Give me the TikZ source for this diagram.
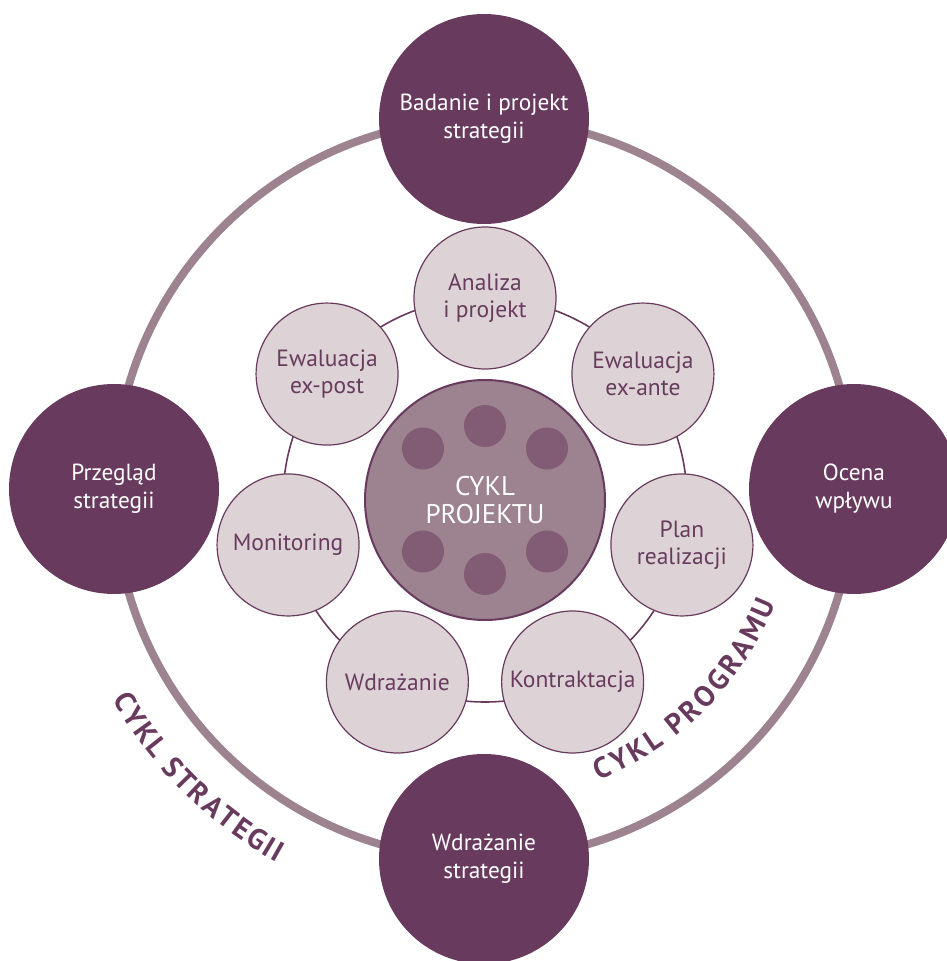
\documentclass[tikz,border=0pt]{standalone}
\usepackage{fontspec}
\setmainfont{PT Sans}
\usetikzlibrary{decorations.text}

\definecolor{plum}{HTML}{683B5E}
\definecolor{mauve}{HTML}{9D8290}
\definecolor{dotplum}{HTML}{825C74}
\definecolor{pale}{HTML}{DDD3D6}

\tikzset{
  bignode/.style = {circle, fill = plum, text = white, minimum size = 210pt, inner sep = 0pt, align = center, font = \fontsize{23.3}{28}\selectfont},
  smallnode/.style = {circle, draw = plum, line width = 1.2pt, fill = pale, text = plum, minimum size = 142pt, inner sep = 0pt, align = center, font = \fontsize{23.5}{27}\selectfont},
  hubnode/.style = {circle, draw = plum, line width = 2pt, fill = mauve, text = white, minimum size = 240pt, inner sep = 0pt, align = center, font = \fontsize{27}{28}\selectfont},
  bigring/.style = {draw = mauve, line width = 8pt},
  smallring/.style = {draw = plum, line width = 1.6pt},
  hubdot/.style = {fill = dotplum}
}

\begin{document}
\begin{tikzpicture}[x = 1pt, y = 1pt]
        \useasboundingbox (-484,-472) rectangle (463,489);

        \coordinate (o) at (0,0);
        \coordinate (c) at (1,-11);

        \draw [bigring] (o) circle (370);

        \node [bignode] (badanie) at (90:370) {Badanie i projekt\\strategii};
        \node [bignode] (ocena) at (0:370) {Ocena\\wpływu};
        \node [bignode] (wdrazaniestr) at (270:370) {Wdrażanie\\strategii};
        \node [bignode] (przeglad) at (180:370) {Przegląd\\strategii};

        \path [decorate, decoration = {text along path, text align = fit to path, text = {|\fontsize{29}{29}\selectfont\bfseries\color{plum}|CYKL STRATEGII}}]
              (209.5:427) arc [start angle = 209.5, end angle = 241, radius = 427];
        \path [decorate, decoration = {text along path, text align = fit to path, text = {|\fontsize{29}{29}\selectfont\bfseries\color{plum}|CYKL PROGRAMU}}]
              ([shift = {(-68.5:313)}] o) arc [start angle = -68.5, end angle = -21.5, radius = 313];

        \draw [smallring] (c) circle (202);

        \node [smallnode] (analiza) at ([shift = {(90:202)}] c) {Analiza\\i projekt};
        \node [smallnode] (exante) at ([shift = {(38.57:202)}] c) {Ewaluacja\\ex-ante};
        \node [smallnode] (plan) at ([shift = {(-12.86:202)}] c) {Plan\\realizacji};
        \node [smallnode] (kontraktacja) at ([shift = {(-64.29:202)}] c) {Kontraktacja};
        \node [smallnode] (wdrazanie) at ([shift = {(-115.71:202)}] c) {Wdrażanie};
        \node [smallnode] (monitoring) at ([shift = {(-167.14:202)}] c) {Monitoring};
        \node [smallnode] (expost) at ([shift = {(141.43:202)}] c) {Ewaluacja\\ex-post};

        \node [hubnode] (hub) at (c) {CYKL\\PROJEKTU};

        \fill [hubdot] ([shift = {(0,74)}] hub.center) circle (21);
        \fill [hubdot] ([shift = {(62,51.5)}] hub.center) circle (21);
        \fill [hubdot] ([shift = {(62,-51.5)}] hub.center) circle (21);
        \fill [hubdot] ([shift = {(0,-74)}] hub.center) circle (21);
        \fill [hubdot] ([shift = {(-62,-51.5)}] hub.center) circle (21);
        \fill [hubdot] ([shift = {(-62,51.5)}] hub.center) circle (21);
\end{tikzpicture}
\end{document}
